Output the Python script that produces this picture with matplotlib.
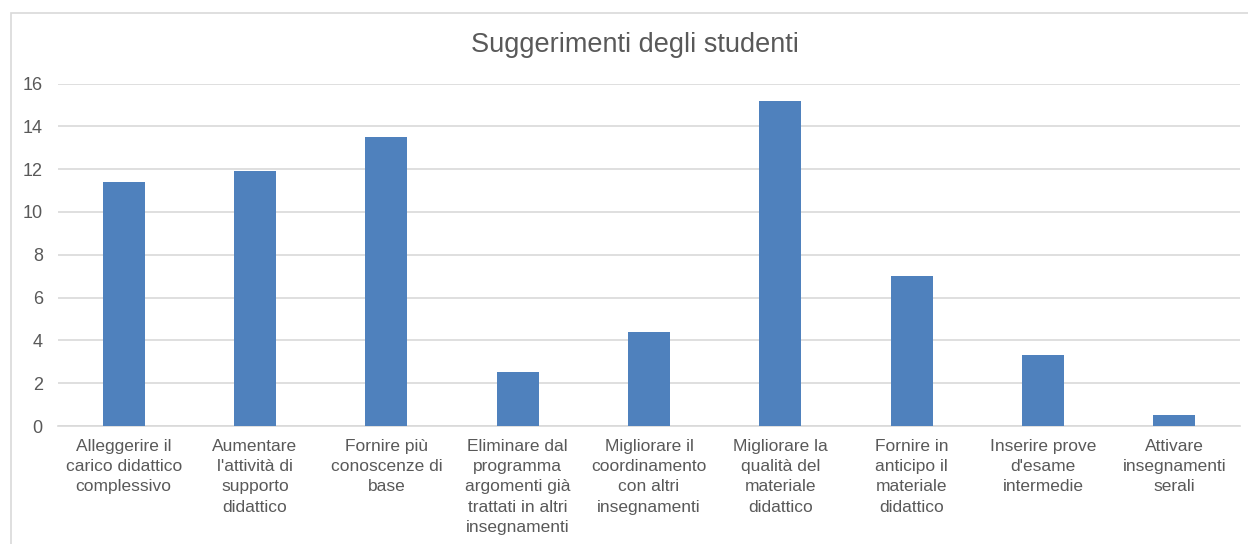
import matplotlib.pyplot as plt
from matplotlib.patches import Rectangle

# categories and values
categories = [
    "Alleggerire il\ncarico didattico\ncomplessivo",
    "Aumentare\nl'attività di\nsupporto\ndidattico",
    "Fornire più\nconoscenze di\nbase",
    "Eliminare dal\nprogramma\nargomenti già\ntrattati in altri\ninsegnamenti",
    "Migliorare il\ncoordinamento\ncon altri\ninsegnamenti",
    "Migliorare la\nqualità del\nmateriale\ndidattico",
    "Fornire in\nanticipo il\nmateriale\ndidattico",
    "Inserire prove\nd'esame\nintermedie",
    "Attivare\ninsegnamenti\nserali",
]
values = [11.4, 11.9, 13.5, 2.5, 4.4, 15.2, 7.0, 3.3, 0.5]
yticks = [0, 2, 4, 6, 8, 10, 12, 14, 16]

plt.rcParams['font.family'] = ['Liberation Sans', 'DejaVu Sans']
text_color = "#595959"
grid_color = "#D9D9D9"

fig = plt.figure(figsize=(12.48, 5.44), dpi=100)
ax = fig.add_axes([0.0465, 0.2169, 0.947, 0.6296])

#chart border like the spreadsheet frame
fig.patches.append(Rectangle((11/1248, -0.1), 1.2, 1 - 13/544 + 0.1,
                             transform=fig.transFigure, fill=False,
                             edgecolor=grid_color, linewidth=1.2))

x = range(len(categories))
ax.bar(x, values, width=0.32, color="#4F81BD", zorder=3)

ax.set_xlim(-0.5, len(categories) - 0.5)
ax.set_ylim(0, 16)
ax.set_yticks(yticks)
ax.set_xticks(list(x))
ax.set_xticklabels(categories, fontsize=12.5, color=text_color, linespacing=1.45)
ax.tick_params(axis='y', labelsize=13, labelcolor=text_color, length=0, pad=11)
ax.tick_params(axis='x', length=0, pad=9)
ax.grid(axis='y', color=grid_color, linewidth=1.2, zorder=0)

for s in ["top", "right", "left"]:
    ax.spines[s].set_visible(False)
ax.spines["bottom"].set_color(grid_color)
ax.spines["bottom"].set_linewidth(1.2)

fig.text(635/1248, 1 - 45/544, "Suggerimenti degli studenti", fontsize=19.5,
         color=text_color, ha="center", va="center")

fig.savefig("out.png", dpi=100)
